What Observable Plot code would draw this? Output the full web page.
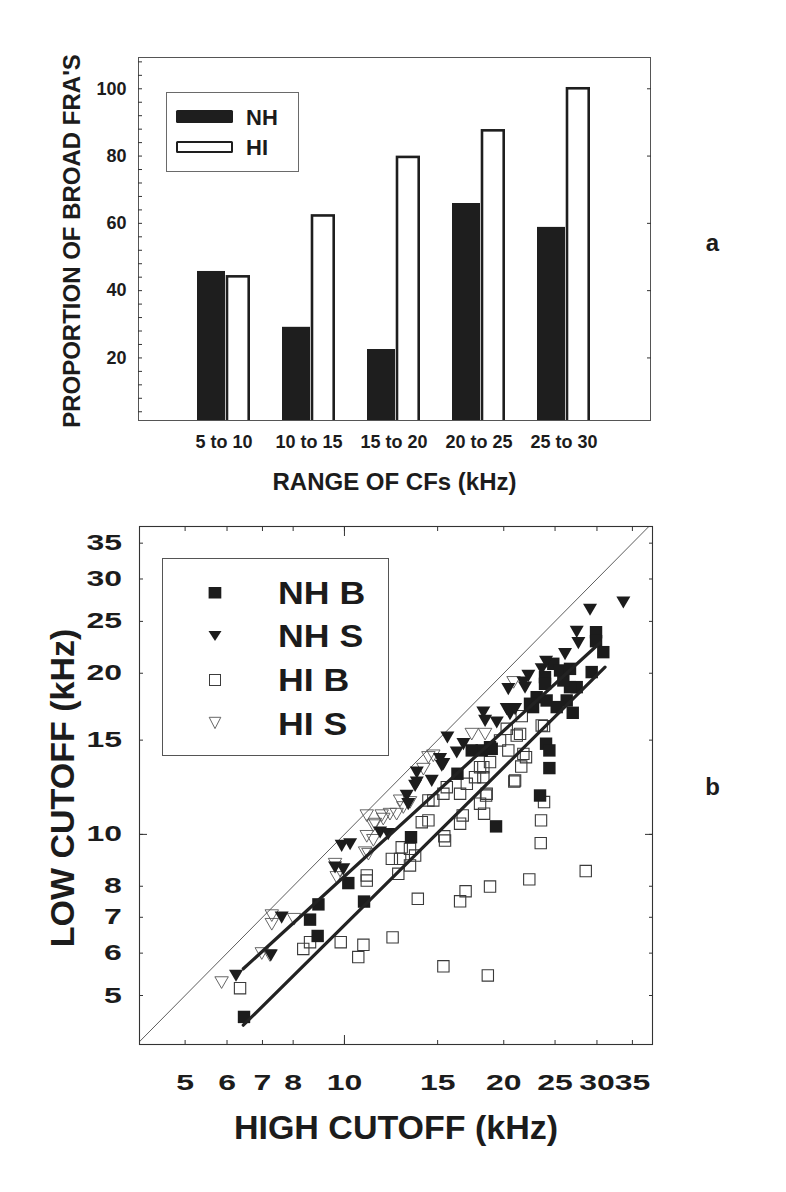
<!DOCTYPE html>
<html>
<head>
<meta charset="utf-8">
<script src="https://cdn.jsdelivr.net/npm/d3@7"></script>
<script src="https://cdn.jsdelivr.net/npm/@observablehq/plot@0.6"></script>
<style>
  html, body { margin: 0; padding: 0; background: #fff; }
  #root { position: relative; width: 786px; height: 1192px; overflow: hidden; background: #fff;
          font-family: "Liberation Sans", Arial, sans-serif; color: #1b1b1b; }
  #root > svg { position: absolute; left: 0; }
  .legend { position: absolute; box-sizing: border-box; background: #fff; }
  .legend .t { position: absolute; font-weight: bold; white-space: nowrap; color: #1b1b1b; }
</style>
</head>
<body>
<div id="root"></div>
<script>
// ---------------- Panel a data ----------------
const ranges = ["5 to 10", "10 to 15", "15 to 20", "20 to 25", "25 to 30"];
const nhProportion = [45.7, 29.1, 22.5, 65.9, 58.8];
const hiProportion = [44.1, 62.2, 79.6, 87.5, 100];
const proportionTicks = [20, 40, 60, 80, 100];
const proportionMinorTicks = [4, 8, 12, 16, 20, 24, 28, 32, 36, 40, 44, 48, 52, 56, 60, 64, 68, 72, 76, 80, 84, 88, 92, 96, 100, 104, 108];

// ---------------- Panel b data: [high cutoff, low cutoff] in kHz ----------------
const nhB = [[6.46,4.56],[8.61,6.93],[8.93,7.40],[8.90,6.46],[10.17,8.11],[10.89,7.49],[13.36,9.88],[16.35,12.98],
  [19.34,10.35],[23.42,11.82],[24.39,13.30],[24.04,14.77],[24.39,14.35],[27.00,16.87],[22.72,17.29],[18.98,14.45],
  [18.17,14.35],[17.40,14.35],[18.84,14.55],[23.08,18.04],[24.10,17.79],[22.42,17.54],[25.18,17.29],[26.30,17.79],
  [27.47,18.84],[26.68,18.84],[25.92,19.39],[23.93,19.67],[23.93,19.11],[24.81,20.83],[25.55,20.24],[26.68,20.38],
  [29.32,20.10],[29.88,23.86],[29.88,22.96],[30.84,21.90]];
const nhS = [[6.24,5.49],[7.26,5.99],[7.61,7.05],[9.60,8.75],[9.95,8.68],[9.88,9.60],[10.25,9.67],[11.68,10.17],
  [12.10,10.10],[13.11,11.91],[13.20,11.49],[13.60,12.43],[13.70,13.16],[13.70,12.61],[14.62,12.70],[15.27,13.55],
  [15.16,13.94],[15.38,13.65],[15.65,15.30],[16.30,14.35],[16.78,14.87],[18.30,17.04],[18.44,16.44],[19.40,16.32],
  [20.26,17.29],[20.55,16.92],[21.01,17.29],[20.40,18.84],[21.94,18.97],[21.78,19.39],[22.26,19.95],[23.59,20.53],
  [24.04,21.19],[26.11,21.90],[27.47,24.11],[27.67,22.96],[29.11,26.51],[33.65,27.35]];
const hiB = [[6.35,5.16],[8.36,6.11],[8.61,6.29],[9.84,6.29],[10.86,6.22],[10.62,5.90],[12.33,6.42],[15.38,5.67],
  [18.66,5.45],[13.76,7.58],[16.54,7.50],[16.94,7.83],[18.84,7.99],[22.35,8.24],[28.57,8.54],[23.49,9.63],
  [23.52,10.62],[23.83,11.49],[18.36,10.93],[15.44,9.92],[16.54,10.47],[16.73,10.85],[20.94,12.55],[21.58,13.39],
  [22.03,13.94],[21.78,14.14],[23.83,15.93],[21.63,16.63],[20.26,15.75],[21.47,15.41],[20.40,14.35],[18.30,13.35],
  [18.30,12.79],[18.52,11.82],[17.65,12.79],[21.16,15.30],[19.68,14.98],[18.84,13.65],[18.04,13.35],[17.03,12.43],
  [21.01,12.61],[18.57,11.91],[15.38,11.91],[16.54,11.91],[14.72,11.57],[18.04,11.41],[14.41,11.57],[14.41,10.62],
  [14.00,10.54],[15.49,9.74],[12.83,9.46],[13.30,9.40],[13.60,9.13],[12.29,9.00],[12.74,9.00],[13.30,8.75],
  [11.02,8.38],[11.02,8.20],[12.64,8.44],[15.61,12.25],[23.59,15.98]];
const hiS = [[5.86,5.33],[6.98,6.04],[7.23,5.99],[7.29,7.11],[7.29,6.85],[8.03,7.00],[9.60,8.87],[9.81,8.62],
  [9.67,8.38],[10.94,9.32],[11.10,9.26],[11.02,10.00],[11.02,10.93],[11.34,10.47],[11.76,10.93],[11.42,10.54],
  [11.84,10.77],[12.19,11.00],[12.55,11.00],[11.34,9.83],[12.74,11.65],[12.92,11.32],[13.30,11.57],[14.10,13.35],
  [14.41,14.04],[14.72,14.14],[17.40,15.52],[18.44,15.52],[20.87,19.39]];
const fitNHS = [[6.44,5.61],[30.4,22.8]];
const fitNHB = [[6.44,4.40],[31.07,20.53]];
const identityLine = [4, 40];
const cutoffTicks = [5, 6, 7, 8, 10, 15, 20, 25, 30, 35];
const cutoffMajorTicks = [10];

const ink = "#1c1c1c";
const font = '"Liberation Sans", Arial, Helvetica, sans-serif';

// ---------------- Panel a ----------------
const barRows = ranges.map((r, i) => ({range: r, nh: nhProportion[i], hi: hiProportion[i]}));

const plotA = Plot.plot({
  width: 786, height: 500,
  marginLeft: 138, marginRight: 136, marginTop: 57, marginBottom: 80,
  style: {fontFamily: font, color: ink, background: "transparent", overflow: "visible"},
  x: {domain: ranges, paddingInner: 0.372, paddingOuter: 0.663, axis: null},
  y: {domain: [1.4, 109.3], axis: null},
  marks: [
    Plot.barY(barRows, {x: "range", y: "nh", fill: "#1e1e1e", insetRight: 25, clip: true}),
    Plot.barY(barRows, {x: "range", y: "hi", fill: "#fff", stroke: "#1e1e1e", strokeWidth: 2.6, insetLeft: 30, insetRight: 1.3, clip: true}),
    Plot.frame({stroke: "#555", strokeWidth: 1}),
    Plot.axisY(proportionMinorTicks, {anchor: "left", tickSize: -4, fill: "none", stroke: "#333"}),
    Plot.axisY(proportionTicks, {anchor: "right", tickSize: -4, fill: "none", stroke: "#333"}),
    Plot.axisY(proportionTicks, {anchor: "left", tickSize: 0, tickPadding: 12, fontSize: 18, fontWeight: "bold", label: null}),
    Plot.axisX({anchor: "bottom", tickSize: 0, tickPadding: 15, fontSize: 18, fontWeight: "bold", label: null}),
    Plot.text(["PROPORTION OF BROAD FRA'S"], {text: d => d, frameAnchor: "left", dx: -66, dy: 2, rotate: -90,
      textAnchor: "middle", lineAnchor: "middle", fontSize: 24, fontWeight: "bold"}),
    Plot.text(["RANGE OF CFs (kHz)"], {text: d => d, frameAnchor: "bottom", dy: 62,
      textAnchor: "middle", lineAnchor: "middle", fontSize: 24, fontWeight: "bold"}),
    Plot.text(["a"], {text: d => d, frameAnchor: "right", dx: 62, dy: 4,
      textAnchor: "middle", lineAnchor: "middle", fontSize: 24, fontWeight: "bold"})
  ]
});
plotA.style.top = "0px";

// ---------------- Panel b ----------------
const triangleDown = {
  draw(context, size) {
    const y = Math.sqrt(size / (3 * Math.sqrt(3)));
    context.moveTo(0, 2 * y);
    context.lineTo(-Math.sqrt(3) * y, -y);
    context.lineTo(Math.sqrt(3) * y, -y);
    context.closePath();
  }
};
const hx = d => d[0], ly = d => d[1];

const plotB = Plot.plot({
  width: 786, height: 692,
  marginLeft: 139, marginRight: 134, marginTop: 26, marginBottom: 148,
  style: {fontFamily: font, color: ink, background: "transparent", overflow: "visible"},
  x: {type: "log", domain: [4.1, 38.2], axis: null},
  y: {type: "log", domain: [4.05, 37.6], axis: null},
  marks: [
    Plot.line(identityLine, {x: d => d, y: d => d, stroke: "#333", strokeWidth: 0.8, clip: true}),
    Plot.dot(hiB, {x: hx, y: ly, symbol: "square", r: 6.4, fill: "none", stroke: "#3a3a3a", strokeWidth: 1.1}),
    Plot.dot(hiS, {x: hx, y: ly, symbol: triangleDown, r: 5.0, fill: "none", stroke: "#555", strokeWidth: 0.9}),
    Plot.dot(nhB, {x: hx, y: ly, symbol: "square", r: 7.0, fill: ink}),
    Plot.dot(nhS, {x: hx, y: ly, symbol: triangleDown, r: 5.2, fill: ink}),
    Plot.line(fitNHS, {x: hx, y: ly, stroke: "#222", strokeWidth: 3.2}),
    Plot.line(fitNHB, {x: hx, y: ly, stroke: "#222", strokeWidth: 3.2}),
    Plot.frame({stroke: "#333", strokeWidth: 1.1}),
    Plot.axisX(cutoffTicks, {anchor: "bottom", tickSize: -4, fill: "none", stroke: "#333"}),
    Plot.axisX(cutoffTicks, {anchor: "top", tickSize: -4, fill: "none", stroke: "#333"}),
    Plot.axisX(cutoffMajorTicks, {anchor: "bottom", tickSize: -9, fill: "none", stroke: "#333"}),
    Plot.axisX(cutoffMajorTicks, {anchor: "top", tickSize: -9, fill: "none", stroke: "#333"}),
    Plot.axisY(cutoffTicks, {anchor: "left", tickSize: -4, fill: "none", stroke: "#333"}),
    Plot.axisY(cutoffTicks, {anchor: "right", tickSize: -4, fill: "none", stroke: "#333"}),
    Plot.axisY(cutoffMajorTicks, {anchor: "left", tickSize: -8, fill: "none", stroke: "#333"}),
    Plot.axisY(cutoffMajorTicks, {anchor: "right", tickSize: -8, fill: "none", stroke: "#333"}),
    Plot.axisX(cutoffTicks, {anchor: "bottom", tickSize: 0, tickPadding: 30, fontSize: 22, fontWeight: "bold", label: null, tickFormat: d => String(d)}),
    Plot.axisY(cutoffTicks, {anchor: "left", tickSize: 0, tickPadding: 17.6, fontSize: 22, fontWeight: "bold", label: null, tickFormat: d => String(d)}),
    Plot.text(["LOW CUTOFF (kHz)"], {text: d => d, frameAnchor: "left", dx: -76, dy: 2.5, rotate: -90,
      textAnchor: "middle", lineAnchor: "middle", fontSize: 34, fontWeight: "bold"}),
    Plot.text(["HIGH CUTOFF (kHz)"], {text: d => d, frameAnchor: "bottom", dy: 84,
      textAnchor: "middle", lineAnchor: "middle", fontSize: 34, fontWeight: "bold"}),
    Plot.text(["b"], {text: d => d, frameAnchor: "right", dx: 60, dy: 2,
      textAnchor: "middle", lineAnchor: "middle", fontSize: 24, fontWeight: "bold"})
  ]
});
plotB.style.top = "500px";

const root = document.getElementById("root");
root.appendChild(plotA);
root.appendChild(plotB);

// widen the panel b tick labels like the original lettering
plotB.querySelectorAll('g[aria-label="x-axis tick label"] text, g[aria-label="y-axis tick label"] text').forEach(t => {
  const L = t.getComputedTextLength();
  if (L > 0) { t.setAttribute("textLength", (L * 1.45).toFixed(1)); t.setAttribute("lengthAdjust", "spacingAndGlyphs"); }
});

// ---------------- Legend a ----------------
const legA = document.createElement("div");
legA.className = "legend";
legA.style.cssText = "left:166px;top:91.7px;width:133.3px;height:80.6px;border:1px solid #6a6a6a;";
legA.innerHTML = `
  <div style="position:absolute;left:9px;top:17.3px;width:56.7px;height:12.7px;background:#1e1e1e;border-radius:1.5px"></div>
  <div style="position:absolute;left:9px;top:48px;width:56.7px;height:12px;border:2.5px solid #1e1e1e;box-sizing:border-box;background:#fff;border-radius:1.5px"></div>
  <span class="t" style="left:79px;top:14.2px;font-size:22px;line-height:22px">NH</span>
  <span class="t" style="left:79px;top:44.2px;font-size:22px;line-height:22px">HI</span>`;
root.appendChild(legA);

// ---------------- Legend b ----------------
const legB = document.createElement("div");
legB.className = "legend";
legB.style.cssText = "left:162.3px;top:558.3px;width:227px;height:197.7px;border:1px solid #555;";
const names = ["NH B", "NH S", "HI B", "HI S"];
const symRows = [33.4, 76.7, 120.7, 164];
const symbols = [
  `<rect x="3.6" y="4" width="12.7" height="11.5" fill="${ink}"/>`,
  `<path d="M3.5,5 L16.5,5 L10,15 Z" fill="${ink}"/>`,
  `<rect x="4.5" y="4.5" width="11" height="11" fill="none" stroke="#3c3c3c" stroke-width="1"/>`,
  `<path d="M4.2,4.3 L15.8,4.3 L10,15.6 Z" fill="none" stroke="#555" stroke-width="0.9"/>`
];
let html = "";
names.forEach((n, i) => {
  html += `<svg width="20" height="20" style="position:absolute;left:${51.7 - 10}px;top:${symRows[i] - 10}px;overflow:visible">${symbols[i]}</svg>`;
  html += `<span class="t" style="left:114.7px;top:${(symRows[i] - 14.6).toFixed(1)}px;font-size:31px;line-height:31px;transform:scaleX(1.15);transform-origin:left center">${n}</span>`;
});
legB.innerHTML = html;
root.appendChild(legB);
</script>
</body>
</html>
